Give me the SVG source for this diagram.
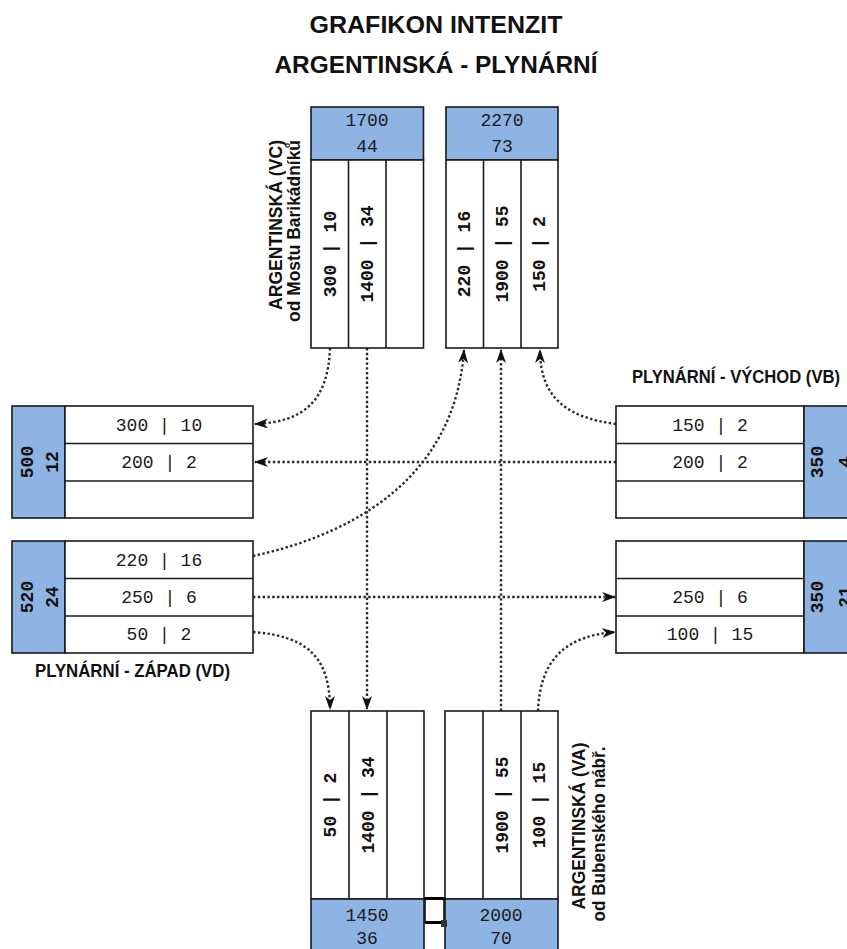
<svg xmlns="http://www.w3.org/2000/svg" width="847" height="949" viewBox="0 0 847 949">
<defs>
<style>
.hd{fill:#8DB4E2;stroke:#1a1a1a;stroke-width:1.6}
.bd{fill:#fff;stroke:#1a1a1a;stroke-width:1.6}
.dv{stroke:#1a1a1a;stroke-width:1.6}
.ttl{font-family:"Liberation Sans",Arial,sans-serif;font-weight:bold;font-size:23.5px;fill:#111;text-anchor:middle}
.lbl{font-family:"Liberation Sans",Arial,sans-serif;font-weight:bold;font-size:18.5px;fill:#111;text-anchor:middle}
.mono{font-family:"Liberation Mono","Courier New",monospace;font-size:18px;fill:#1a1a1a;text-anchor:middle}
.monob{font-family:"Liberation Mono","Courier New",monospace;font-size:18px;font-weight:bold;fill:#111;text-anchor:middle}
.cn{fill:none;stroke:#2a2a2a;stroke-width:2.4;stroke-dasharray:2.4 2.4}
</style>
<marker id="ah" viewBox="0 0 14 10" refX="13" refY="5" markerWidth="14" markerHeight="10" markerUnits="userSpaceOnUse" orient="auto">
<path d="M0,0 L14,5 L0,10 L4,5 Z" fill="#111"/>
</marker>
</defs>
<rect width="847" height="949" fill="#fff"/>

<g id="title">
<text class="ttl" x="436" y="33" textLength="253" lengthAdjust="spacingAndGlyphs">GRAFIKON INTENZIT</text>
<text class="ttl" x="436" y="73" textLength="323" lengthAdjust="spacingAndGlyphs">ARGENTINSKÁ - PLYNÁRNÍ</text>
</g>

<g id="connectors">
<path class="cn" d="M330 348 C328 400 305 422 255 424" marker-end="url(#ah)"/>
<path class="cn" d="M367 348 L367 709" marker-end="url(#ah)"/>
<path class="cn" d="M616 462 L255 462" marker-end="url(#ah)"/>
<path class="cn" d="M616 424 C570 418 540 400 540 350" marker-end="url(#ah)"/>
<path class="cn" d="M501 711 L501 350" marker-end="url(#ah)"/>
<path class="cn" d="M253 556 C350 535 455 480 464 350" marker-end="url(#ah)"/>
<path class="cn" d="M253 597 L615 597" marker-end="url(#ah)"/>
<path class="cn" d="M253 632 C305 636 330 655 330 709" marker-end="url(#ah)"/>
<path class="cn" d="M538 711 C540 660 565 636 615 632" marker-end="url(#ah)"/>
</g>

<g id="node-vc-out">
<rect class="hd" x="311" y="107" width="112.5" height="53"/>
<rect class="bd" x="311" y="160" width="112.5" height="188"/>
<line class="dv" x1="348.5" y1="160" x2="348.5" y2="348"/>
<line class="dv" x1="386" y1="160" x2="386" y2="348"/>
<text class="mono" x="367" y="126">1700</text>
<text class="mono" x="367" y="152">44</text>
<text class="monob" transform="translate(330,254) rotate(-90)" dy="0.35em">300 | 10</text>
<text class="monob" transform="translate(367,254) rotate(-90)" dy="0.35em">1400 | 34</text>
</g>

<g id="node-vc-in">
<rect class="hd" x="446" y="107" width="112" height="53"/>
<rect class="bd" x="446" y="160" width="112" height="188"/>
<line class="dv" x1="483.5" y1="160" x2="483.5" y2="348"/>
<line class="dv" x1="521" y1="160" x2="521" y2="348"/>
<text class="mono" x="502" y="126">2270</text>
<text class="mono" x="502" y="152">73</text>
<text class="monob" transform="translate(464,254) rotate(-90)" dy="0.35em">220 | 16</text>
<text class="monob" transform="translate(502,254) rotate(-90)" dy="0.35em">1900 | 55</text>
<text class="monob" transform="translate(539,254) rotate(-90)" dy="0.35em">150 | 2</text>
</g>

<g id="label-vc">
<text class="lbl" transform="translate(282,225) rotate(-90)" textLength="170" lengthAdjust="spacingAndGlyphs">ARGENTINSKÁ (VC)</text>
<text class="lbl" transform="translate(300,231) rotate(-90)" textLength="182" lengthAdjust="spacingAndGlyphs">od Mostu Barikádníků</text>
</g>

<g id="node-vd-in">
<rect class="hd" x="12" y="406" width="53" height="112"/>
<rect class="bd" x="65" y="406" width="188" height="112"/>
<line class="dv" x1="65" y1="443.5" x2="253" y2="443.5"/>
<line class="dv" x1="65" y1="481" x2="253" y2="481"/>
<text class="monob" transform="translate(27,462) rotate(-90)" dy="0.35em">500</text>
<text class="monob" transform="translate(52,462) rotate(-90)" dy="0.35em">12</text>
<text class="mono" x="159" y="425" dy="0.35em">300 | 10</text>
<text class="mono" x="159" y="462" dy="0.35em">200 | 2</text>
</g>

<g id="node-vd-out">
<rect class="hd" x="12" y="541" width="53" height="112"/>
<rect class="bd" x="65" y="541" width="188" height="112"/>
<line class="dv" x1="65" y1="578.5" x2="253" y2="578.5"/>
<line class="dv" x1="65" y1="616" x2="253" y2="616"/>
<text class="monob" transform="translate(27,597) rotate(-90)" dy="0.35em">520</text>
<text class="monob" transform="translate(52,597) rotate(-90)" dy="0.35em">24</text>
<text class="mono" x="159" y="560" dy="0.35em">220 | 16</text>
<text class="mono" x="159" y="597" dy="0.35em">250 | 6</text>
<text class="mono" x="159" y="634" dy="0.35em">50 | 2</text>
</g>

<g id="label-vd">
<text class="lbl" x="132.5" y="677" textLength="195" lengthAdjust="spacingAndGlyphs">PLYNÁRNÍ - ZÁPAD (VD)</text>
</g>

<g id="node-vb-out">
<rect class="bd" x="616" y="406" width="188" height="112"/>
<line class="dv" x1="616" y1="443.5" x2="804" y2="443.5"/>
<line class="dv" x1="616" y1="481" x2="804" y2="481"/>
<rect class="hd" x="804" y="406" width="53" height="112"/>
<text class="monob" transform="translate(817,462) rotate(-90)" dy="0.35em">350</text>
<text class="monob" transform="translate(845,462) rotate(-90)" dy="0.35em">4</text>
<text class="mono" x="710" y="425" dy="0.35em">150 | 2</text>
<text class="mono" x="710" y="462" dy="0.35em">200 | 2</text>
</g>

<g id="node-vb-in">
<rect class="bd" x="616" y="541" width="188" height="112"/>
<line class="dv" x1="616" y1="578.5" x2="804" y2="578.5"/>
<line class="dv" x1="616" y1="616" x2="804" y2="616"/>
<rect class="hd" x="804" y="541" width="53" height="112"/>
<text class="monob" transform="translate(817,597) rotate(-90)" dy="0.35em">350</text>
<text class="monob" transform="translate(845,597) rotate(-90)" dy="0.35em">21</text>
<text class="mono" x="710" y="597" dy="0.35em">250 | 6</text>
<text class="mono" x="710" y="634" dy="0.35em">100 | 15</text>
</g>

<g id="label-vb">
<text class="lbl" x="736" y="383" textLength="208" lengthAdjust="spacingAndGlyphs">PLYNÁRNÍ - VÝCHOD (VB)</text>
</g>

<g id="node-va-in">
<rect class="bd" x="311" y="711" width="113" height="188"/>
<line class="dv" x1="349" y1="711" x2="349" y2="899"/>
<line class="dv" x1="387" y1="711" x2="387" y2="899"/>
<rect class="hd" x="311" y="899" width="113" height="70"/>
<text class="monob" transform="translate(330,805) rotate(-90)" dy="0.35em">50 | 2</text>
<text class="monob" transform="translate(368,805) rotate(-90)" dy="0.35em">1400 | 34</text>
<text class="mono" x="367" y="921">1450</text>
<text class="mono" x="367" y="944">36</text>
</g>

<g id="node-va-out">
<rect class="bd" x="445" y="711" width="113" height="188"/>
<line class="dv" x1="483" y1="711" x2="483" y2="899"/>
<line class="dv" x1="521" y1="711" x2="521" y2="899"/>
<rect class="hd" x="445" y="899" width="113" height="70"/>
<text class="monob" transform="translate(502,805) rotate(-90)" dy="0.35em">1900 | 55</text>
<text class="monob" transform="translate(539,805) rotate(-90)" dy="0.35em">100 | 15</text>
<text class="mono" x="501" y="921">2000</text>
<text class="mono" x="501" y="944">70</text>
</g>

<g id="label-va">
<text class="lbl" transform="translate(585,826) rotate(-90)" textLength="167" lengthAdjust="spacingAndGlyphs">ARGENTINSKÁ (VA)</text>
<text class="lbl" transform="translate(605,834) rotate(-90)" textLength="175" lengthAdjust="spacingAndGlyphs">od Bubenského nábř.</text>
</g>

<g id="marker-box">
<rect x="425" y="898.5" width="19" height="24" fill="#fff" stroke="#111" stroke-width="1.6"/>
<line x1="424" y1="898.5" x2="446" y2="898.5" stroke="#000" stroke-width="3"/>
<line x1="425" y1="922.5" x2="443" y2="922.5" stroke="#000" stroke-width="3"/>
<rect x="441" y="920" width="6" height="7" fill="#333"/>
</g>
</svg>
